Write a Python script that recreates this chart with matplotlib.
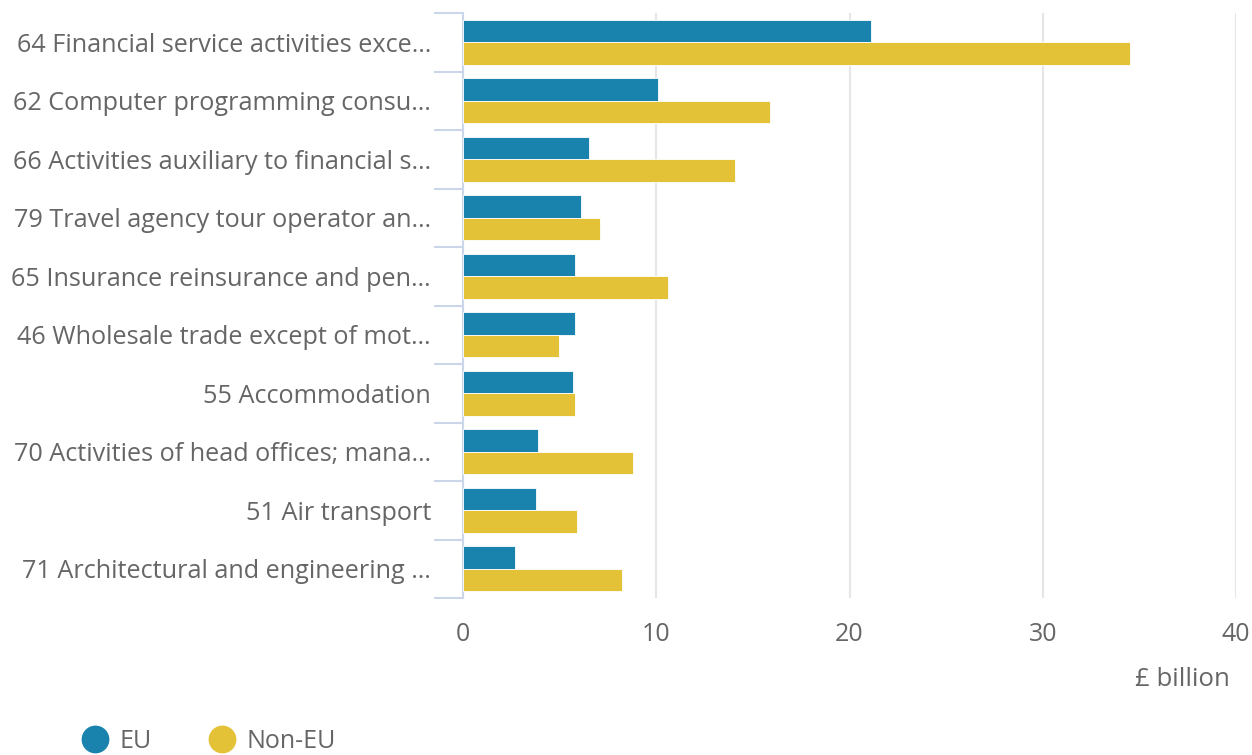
import matplotlib
matplotlib.use("Agg")
import matplotlib.pyplot as plt
import numpy as np
from matplotlib.lines import Line2D

categories = [
    "64 Financial service activities exce…",
    "62 Computer programming consu…",
    "66 Activities auxiliary to financial s…",
    "79 Travel agency tour operator an…",
    "65 Insurance reinsurance and pen…",
    "46 Wholesale trade except of mot…",
    "55 Accommodation",
    "70 Activities of head offices; mana…",
    "51 Air transport",
    "71 Architectural and engineering …",
]
eu = [21.1, 10.1, 6.5, 6.1, 5.8, 5.8, 5.7, 3.9, 3.8, 2.7]
non_eu = [34.5, 15.9, 14.1, 7.1, 10.6, 4.95, 5.8, 8.8, 5.9, 8.25]
series_names = ["EU", "Non-EU"]
xticks = [0, 10, 20, 30, 40]

plt.rcParams['font.family'] = ['Open Sans', 'DejaVu Sans']

W, H = 1252, 755
fig = plt.figure(figsize=(W / 100, H / 100), dpi=100)
left, right, top, bottom = 463, 1236, 13, 598
ax = fig.add_axes([left / W, 1 - bottom / H, (right - left) / W, (bottom - top) / H])

c_eu = "#1a83ad"
c_non = "#e3c238"
n = len(categories)
y = np.arange(n)
bh = 0.385
ax.barh(y - bh / 2, eu, height=bh, color=c_eu, edgecolor="white", linewidth=0.6, zorder=3)
ax.barh(y + bh / 2, non_eu, height=bh, color=c_non, edgecolor="white", linewidth=0.6, zorder=3)

ax.set_xlim(0, 40)
ax.set_ylim(n - 0.5, -0.5)
ax.set_xticks(xticks)
ax.set_xticklabels([str(t) for t in xticks])
ax.tick_params(axis="x", length=0, pad=17, labelsize=18, labelcolor="#666666")
ax.xaxis.grid(True, color="#e6e6e6", linewidth=1.5, zorder=0)
ax.set_axisbelow(True)

ax.set_yticks(y)
ax.set_yticklabels(categories)
ax.tick_params(axis="y", length=0, pad=23, labelsize=18.2, labelcolor="#666666")
# category boundary ticks
ax.set_yticks(np.arange(-0.5, n, 1.0), minor=True)
ax.tick_params(axis="y", which="minor", length=21, width=1.5, color="#ccd6eb")

for s in ["top", "right", "bottom"]:
    ax.spines[s].set_visible(False)
ax.spines["left"].set_color("#ccd6eb")
ax.spines["left"].set_linewidth(1.5)

fig.text(1230 / W, 1 - 679 / H, "£ billion", ha="right", va="center", fontsize=18.5, color="#666666")

handles = [Line2D([0], [0], marker="o", linestyle="", markersize=19, color=c) for c in (c_eu, c_non)]
fig.legend(handles, series_names, loc="center left", bbox_to_anchor=(57 / W, 1 - 741 / H),
           ncol=2, frameon=False, fontsize=18, labelcolor="#666666", handletextpad=0.4,
           columnspacing=2.2, handlelength=1.2)

fig.savefig("out.png", dpi=100)
